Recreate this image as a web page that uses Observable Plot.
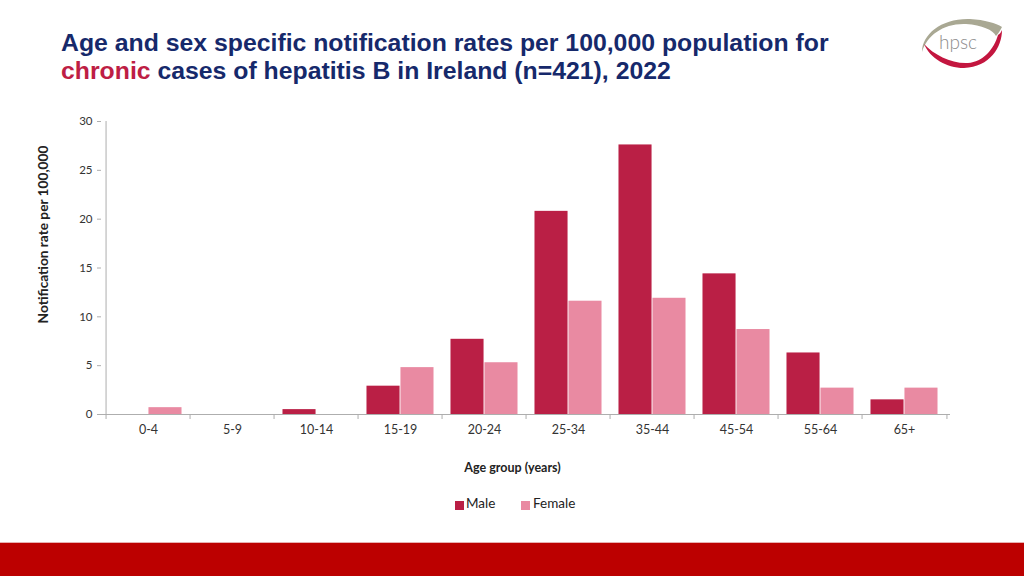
<!DOCTYPE html>
<html>
<head>
<meta charset="utf-8">
<script src="https://cdn.jsdelivr.net/npm/d3@7"></script>
<script src="https://cdn.jsdelivr.net/npm/@observablehq/plot@0.6"></script>
<style>
  html, body { margin: 0; padding: 0; background: #fff; }
  body { width: 1024px; height: 576px; position: relative; overflow: hidden; font-family: Lato, "Open Sans", sans-serif; }
  #title { position: absolute; left: 61px; top: 29px; font-family: "Liberation Sans", Arial, sans-serif; font-weight: bold; font-size: 24.8px; line-height: 28px; color: #16296B; white-space: nowrap; }
  #title .hl { color: #BE1E45; }
  #chart { position: absolute; left: 0; top: 100px; }
  #legend { position: absolute; top: 495px; left: 0; width: 1024px; font-family: Lato, sans-serif; font-size: 13.5px; color: #222; }
  .sw { position: absolute; width: 9px; height: 9px; top: 6px; }
  .lt { position: absolute; top: 0px; }
  #footer { position: absolute; left: 0; top: 542px; width: 1024px; height: 34px; background: #BC0000; border-top: 1px solid #e8b0b0; }
  #logo { position: absolute; left: 905px; top: 5px; }
</style>
</head>
<body>
<div id="title">Age and sex specific notification rates per 100,000 population for<br><span class="hl">chronic</span> cases of hepatitis B in Ireland (n=421), 2022</div>
<svg id="logo" width="115" height="80" viewBox="905 5 115 80">
  <path d="M 922 52 C 922 34, 942 18, 970 19 C 985 20, 996 23, 1002 27 C 1000 31, 998 34, 996 36 C 993 30, 982 25, 966 24 C 944 23, 927 35, 922 52 Z" fill="#A9A893"/>
  <path d="M 924 44 C 934 55, 952 64, 968 63 C 983 62, 994 49, 998 35 C 1000 34, 1001 32, 1002 30 C 1002 47, 990 67, 964 68 C 946 68, 930 58, 924 44 Z" fill="#C3163F"/>
  <text x="939" y="49" font-family="Lato, sans-serif" font-size="19" font-weight="300" fill="#8c8c8c">hpsc</text>
</svg>
<div id="chart"></div>
<div id="legend">
  <div class="sw" style="left:455px;background:#BA1F45"></div><div class="lt" style="left:466px">Male</div>
  <div class="sw" style="left:521px;background:#E98AA2"></div><div class="lt" style="left:533px">Female</div>
</div>
<div id="footer"></div>
<script>
const ageGroups = ["0-4", "5-9", "10-14", "15-19", "20-24", "25-34", "35-44", "45-54", "55-64", "65+"];
const maleRates = [0, 0, 0.5, 2.9, 7.7, 20.8, 27.6, 14.4, 6.3, 1.5];
const femaleRates = [0.7, 0, 0, 4.8, 5.3, 11.6, 11.9, 8.7, 2.7, 2.7];
const yTicks = [0, 5, 10, 15, 20, 25, 30];

const maleColor = "#BA1F45";
const femaleColor = "#E98AA2";
const axisColor = "#AEAEAE";

const rows = ageGroups.map((a, i) => ({age: a, male: maleRates[i], female: femaleRates[i]}));

const W = 1024, H = 380, ML = 101, MR = 74, MT = 21, MB = 66;
const bw = (W - ML - MR) / ageGroups.length;
const pad = bw * 0.1;
const half = bw / 2;

const chart = Plot.plot({
  width: W,
  height: H,
  marginLeft: ML,
  marginRight: MR,
  marginTop: MT,
  marginBottom: MB,
  style: {fontFamily: "Lato, sans-serif", fontSize: "12px", color: "#333", background: "transparent"},
  x: {type: "band", domain: ageGroups, padding: 0},
  y: {domain: [0, 30]},
  marks: [
    Plot.barY(rows, {x: "age", y: "male", fill: maleColor, insetLeft: pad, insetRight: half}),
    Plot.barY(rows, {x: "age", y: "female", fill: femaleColor, insetLeft: half, insetRight: pad}),
    Plot.ruleY([0], {stroke: axisColor}),
    Plot.ruleX([ageGroups[0]], {y1: 0, y2: 30, dx: -half, stroke: axisColor}),
    Plot.axisY({ticks: yTicks, tickSize: 4, tickPadding: 5, stroke: axisColor, fontSize: 11.5, label: null}),
    Plot.axisX({tickSize: 0, tickPadding: 11, fontSize: 12.5, label: null}),
    Plot.axisX({ticks: ageGroups, tickSize: 5, tickFormat: () => "", dx: -half, stroke: axisColor, label: null}),
    Plot.axisX({ticks: [ageGroups[ageGroups.length - 1]], tickSize: 5, tickFormat: () => "", dx: half, stroke: axisColor, label: null}),
    Plot.text(["Age group (years)"], {frameAnchor: "bottom", dy: 57, dx: -13.5, fontWeight: "bold", fontSize: 12.5, fill: "#222"}),
    Plot.text(["Notification rate per 100,000"], {frameAnchor: "left", textAnchor: "middle", dx: -58, dy: -33.5, rotate: -90, fontWeight: "bold", fontSize: 13.7, fill: "#222"})
  ]
});
document.getElementById("chart").appendChild(chart);
</script>
</body>
</html>
